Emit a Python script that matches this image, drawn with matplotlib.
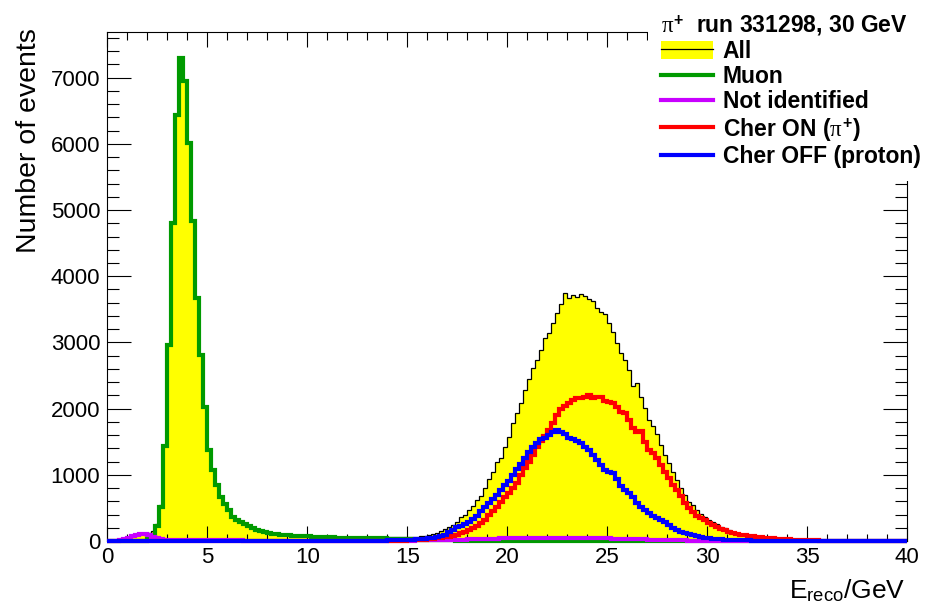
import numpy as np
import matplotlib
matplotlib.use("Agg")
import matplotlib.pyplot as plt
from matplotlib.ticker import MultipleLocator
from matplotlib.patches import Patch
from matplotlib.lines import Line2D
from matplotlib.font_manager import FontProperties

plt.rcParams.update({
    "font.family": ["Liberation Sans", "DejaVu Sans"],
    "mathtext.fontset": "custom",
    "mathtext.rm": "Liberation Sans",
    "mathtext.it": "Liberation Serif",
    "mathtext.bf": "Liberation Sans:bold",
    "mathtext.sf": "Liberation Sans",
})

# ---------------- data: 200 bins of 0.2 GeV from 0 to 40 GeV ----------------
e_min, e_max = 0.0, 40.0

all_counts = [
    0, 2, 5, 15, 30, 50, 70, 90, 105, 105,
    115, 150, 260, 545, 1450, 2975, 4825, 6445, 7315, 6965,
    6035, 4845, 3685, 2825, 2045, 1390, 1085, 865, 685, 575,
    485, 385, 335, 305, 265, 240, 210, 180, 160, 145,
    133, 122, 112, 106, 100, 95, 92, 89, 84, 81,
    77, 74, 71, 70, 69, 68, 67, 66, 64, 63,
    62, 61, 60, 59, 59, 59, 58, 58, 58, 58,
    56, 55, 54, 53, 53, 55, 60, 64, 68, 72,
    85, 105, 125, 150, 180, 210, 240, 280, 360, 400,
    470, 530, 620, 680, 800, 935, 1050, 1200, 1255, 1425,
    1577, 1780, 1930, 2090, 2280, 2445, 2610, 2735, 2890, 3065,
    3140, 3290, 3450, 3580, 3745, 3670, 3710, 3685, 3735, 3695,
    3660, 3620, 3520, 3460, 3430, 3290, 3160, 2990, 2840, 2735,
    2585, 2345, 2385, 2180, 2005, 1830, 1730, 1620, 1450, 1300,
    1175, 1035, 920, 795, 695, 595, 545, 470, 410, 360,
    320, 285, 250, 215, 190, 160, 140, 125, 110, 98,
    88, 78, 69, 61, 55, 50, 45, 41, 37, 33,
    29, 25, 22, 19, 16, 14, 12, 11, 10, 9,
    8, 7, 6, 6, 5, 5, 4, 4, 3, 3,
    3, 2, 2, 2, 1, 1, 1, 1, 0, 0,
]

muon_counts = [
    0, 0, 0, 0, 0, 0, 0, 0, 0, 5,
    30, 90, 220, 520, 1430, 2960, 4810, 6430, 7300, 6950,
    6020, 4830, 3670, 2810, 2030, 1375, 1070, 850, 670, 560,
    470, 370, 320, 290, 250, 225, 195, 165, 145, 130,
    120, 110, 100, 95, 90, 85, 82, 80, 75, 72,
    68, 65, 62, 60, 58, 56, 54, 52, 50, 49,
    48, 47, 46, 45, 44, 43, 42, 41, 40, 38,
    36, 34, 32, 29, 26, 23, 20, 17, 15, 13,
    12, 11, 10, 9, 9, 8, 8, 7, 7, 7,
    6, 6, 6, 6, 6, 5, 5, 5, 5, 5,
    5, 5, 5, 5, 5, 5, 5, 5, 5, 5,
    5, 5, 5, 5, 4, 4, 4, 4, 4, 4,
    4, 4, 4, 3, 3, 3, 3, 3, 3, 3,
    3, 3, 3, 2, 2, 2, 2, 2, 2, 2,
    2, 2, 2, 2, 2, 1, 1, 1, 1, 1,
    1, 1, 1, 1, 1, 1, 1, 1, 1, 1,
    0, 0, 0, 0, 0, 0, 0, 0, 0, 0,
    0, 0, 0, 0, 0, 0, 0, 0, 0, 0,
    0, 0, 0, 0, 0, 0, 0, 0, 0, 0,
    0, 0, 0, 0, 0, 0, 0, 0, 0, 0,
]

notid_counts = [
    0, 2, 5, 15, 30, 50, 70, 90, 105, 100,
    85, 60, 40, 25, 20, 15, 14, 14, 13, 12,
    12, 11, 10, 10, 10, 10, 9, 9, 9, 8,
    8, 8, 8, 8, 7, 7, 7, 7, 7, 7,
    6, 6, 6, 6, 6, 6, 6, 6, 6, 6,
    6, 6, 6, 6, 5, 5, 5, 5, 5, 5,
    5, 5, 5, 5, 5, 5, 5, 5, 5, 5,
    5, 5, 6, 6, 6, 7, 7, 8, 8, 9,
    10, 11, 12, 13, 14, 15, 17, 18, 20, 22,
    24, 26, 28, 30, 32, 34, 35, 36, 38, 39,
    40, 41, 42, 42, 43, 43, 44, 44, 45, 45,
    45, 45, 45, 45, 45, 44, 44, 44, 43, 43,
    42, 42, 41, 40, 39, 38, 37, 36, 35, 33,
    31, 29, 27, 25, 23, 21, 19, 17, 15, 14,
    12, 11, 10, 9, 8, 7, 6, 6, 5, 5,
    4, 4, 4, 3, 3, 3, 3, 2, 2, 2,
    2, 2, 2, 2, 2, 1, 1, 1, 1, 1,
    1, 1, 1, 1, 1, 1, 1, 1, 1, 1,
    0, 0, 0, 0, 0, 0, 0, 0, 0, 0,
    0, 0, 0, 0, 0, 0, 0, 0, 0, 0,
]

cher_on_counts = [
    0, 0, 0, 0, 0, 0, 0, 0, 0, 0,
    0, 0, 0, 0, 0, 0, 0, 0, 0, 0,
    0, 0, 0, 0, 0, 1, 1, 1, 1, 1,
    1, 1, 1, 1, 1, 1, 1, 1, 1, 1,
    2, 2, 2, 2, 2, 2, 2, 2, 2, 2,
    2, 2, 2, 3, 3, 3, 3, 3, 4, 4,
    4, 4, 4, 4, 4, 4, 4, 4, 5, 5,
    5, 5, 6, 6, 7, 8, 10, 12, 14, 17,
    28, 34, 40, 45, 58, 65, 75, 90, 115, 140,
    165, 195, 230, 275, 320, 390, 460, 520, 590, 660,
    720, 800, 880, 1000, 1100, 1200, 1300, 1420, 1510, 1590,
    1680, 1790, 1900, 1990, 2040, 2080, 2130, 2155, 2155, 2180,
    2205, 2155, 2180, 2170, 2120, 2100, 2080, 2030, 1955, 1930,
    1830, 1700, 1650, 1660, 1500, 1375, 1325, 1250, 1150, 1050,
    950, 845, 770, 680, 580, 500, 440, 380, 345, 310,
    275, 245, 215, 185, 165, 140, 120, 108, 96, 86,
    76, 68, 60, 53, 48, 44, 40, 36, 32, 28,
    25, 21, 18, 15, 13, 11, 9, 8, 7, 6,
    5, 5, 4, 4, 3, 3, 3, 2, 2, 2,
    2, 1, 1, 1, 1, 1, 1, 0, 0, 0,
]

cher_off_counts = [
    0, 0, 0, 0, 0, 0, 0, 0, 0, 0,
    0, 0, 0, 0, 0, 0, 0, 0, 0, 0,
    0, 0, 0, 0, 0, 0, 0, 0, 0, 0,
    0, 0, 0, 0, 0, 0, 0, 0, 0, 0,
    0, 0, 0, 0, 0, 0, 0, 0, 0, 0,
    1, 1, 1, 1, 2, 2, 2, 2, 3, 3,
    3, 3, 4, 4, 5, 5, 6, 6, 7, 7,
    8, 9, 10, 12, 14, 17, 20, 24, 28, 33,
    40, 50, 62, 75, 90, 140, 170, 205, 220, 255,
    290, 330, 375, 450, 520, 575, 640, 700, 770, 840,
    900, 1000, 1090, 1170, 1250, 1340, 1420, 1475, 1540, 1550,
    1600, 1640, 1670, 1650, 1615, 1560, 1540, 1510, 1475, 1425,
    1375, 1300, 1225, 1150, 1075, 1050, 1025, 940, 830, 775,
    720, 670, 580, 510, 470, 420, 375, 345, 315, 285,
    240, 200, 170, 140, 120, 100, 85, 72, 60, 48,
    40, 34, 29, 25, 21, 18, 15, 13, 11, 10,
    8, 7, 6, 6, 5, 5, 4, 4, 3, 3,
    3, 2, 2, 2, 2, 2, 1, 1, 1, 1,
    1, 1, 1, 1, 1, 1, 1, 1, 1, 1,
    0, 0, 0, 0, 0, 0, 0, 0, 0, 0,
]

labels = ["All", "Muon", "Not identified",
          r"Cher ON ($\pi^{\mathbf{+}}$)", "Cher OFF (proton)"]
header = r"$\pi^{\mathbf{+}}$  run 331298, 30 GeV"

# ---------------- figure ----------------
W, H = 928, 606
fig = plt.figure(figsize=(W / 100, H / 100), dpi=100)
ax = fig.add_axes([107.3 / W, 65 / H, 800 / W, 509 / H])

edges = np.linspace(e_min, e_max, len(all_counts) + 1)

c_fill = "#ffff00"
c_muon = "#009a00"
c_notid = "#c800ff"
c_on = "#ff0000"
c_off = "#0000ff"
lw = 3.0

ax.stairs(all_counts, edges, fill=True, facecolor=c_fill, edgecolor="none",
          zorder=1)
ax.stairs(all_counts, edges, color="black", lw=0.9, zorder=1.5)
for vals, col in [(muon_counts, c_muon), (notid_counts, c_notid),
                  (cher_on_counts, c_on), (cher_off_counts, c_off)]:
    ax.stairs(vals, edges, color=col, lw=lw, baseline=None, zorder=3,
              clip_on=False)

ax.set_xlim(e_min, e_max)
ax.set_ylim(0, 7690)

for s in ax.spines.values():
    s.set_linewidth(0.8)

ax.xaxis.set_major_locator(MultipleLocator(5))
ax.xaxis.set_minor_locator(MultipleLocator(1))
ax.yaxis.set_major_locator(MultipleLocator(1000))
ax.yaxis.set_minor_locator(MultipleLocator(200))
ax.tick_params(which="both", direction="in", top=True, right=True,
               width=0.8, colors="black")
ax.tick_params(axis="x", which="major", length=10.8, pad=4, labelsize=16)
ax.tick_params(axis="x", which="minor", length=5.4)
ax.tick_params(axis="y", which="major", length=17.3, pad=5, labelsize=16)
ax.tick_params(axis="y", which="minor", length=8.6)

ax.set_ylabel("Number of events", fontsize=20.5)
ax.yaxis.label.set_horizontalalignment("right")
ax.yaxis.label.set_verticalalignment("baseline")
ax.yaxis.set_label_coords((36.5 - 107.3) / 800, (541 - 28) / 509)

ax.set_xlabel(r"E$_{\mathrm{reco}}$/GeV", fontsize=19)
ax.xaxis.label.set_horizontalalignment("right")
ax.xaxis.label.set_verticalalignment("baseline")
ax.xaxis.set_label_coords((905 - 107.3) / 800, (541 - 598) / 509)

# ---------------- legend ----------------
handles = [
    (Patch(facecolor=c_fill, edgecolor="none"),
     Line2D([], [], color="black", lw=0.9)),
    Line2D([], [], color=c_muon, lw=lw),
    Line2D([], [], color=c_notid, lw=lw),
    Line2D([], [], color=c_on, lw=lw),
    Line2D([], [], color=c_off, lw=lw),
]
fp = FontProperties(family="Liberation Sans", weight="bold", size=16.5)
leg = ax.legend(handles, labels, title=header, loc="upper left",
                bbox_to_anchor=(648 / W, 1.0), bbox_transform=fig.transFigure,
                prop=fp, title_fontproperties=fp, alignment="left",
                frameon=True, facecolor="white", edgecolor="none",
                framealpha=1.0, fancybox=False, borderpad=0.55,
                handlelength=2.27, handleheight=0.8, handletextpad=0.44,
                labelspacing=0.1, borderaxespad=0)
leg.set_zorder(10)

fig.savefig("out.png", dpi=100)
